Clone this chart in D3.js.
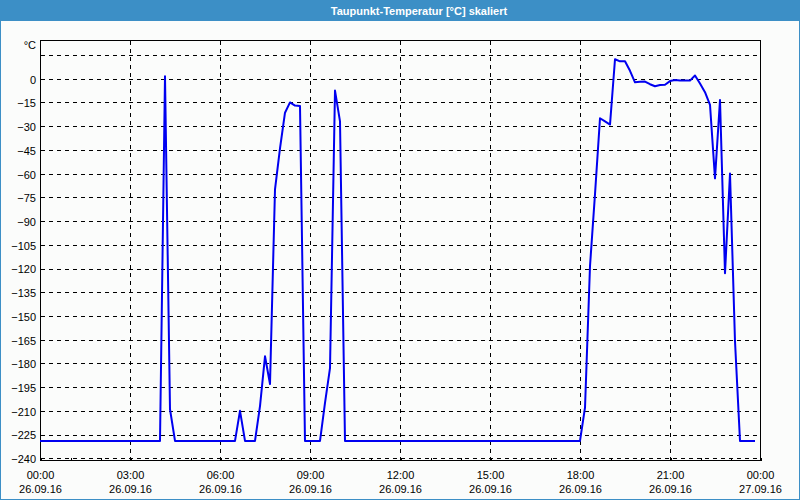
<!DOCTYPE html>
<html><head><meta charset="utf-8">
<script src="https://cdn.jsdelivr.net/npm/d3@7"></script>
<style>html,body{margin:0;padding:0;background:#fff;} svg{display:block;}</style>
</head><body>
<svg id="chart" width="800" height="500"></svg>
<script>
const chartTitle = "Taupunkt-Temperatur [°C] skaliert";
const unitLabel = "°C";
const sampleTimes = [
  "00:00","04:00","04:10","04:20","04:30",
  "06:30","06:40","06:50","07:10","07:20","07:30","07:40","07:50","08:00","08:10","08:20","08:30","08:40","08:50",
  "09:20","09:30","09:40","09:50","10:00","10:10",
  "18:00","18:10","18:20","18:30","18:40","18:50","19:00","19:10","19:20","19:30","19:40","19:50",
  "20:00","20:10","20:20","20:30","20:40","20:50","21:00","21:10","21:20","21:30","21:40","21:50",
  "22:00","22:10","22:20","22:30","22:40","22:50","23:00","23:10","23:20","23:50"
];
const dewPoint = [
  -229,-229,1.5,-209,-229,
  -229,-210,-229,-229,-207,-175.5,-193,-70,-44,-21.5,-15,-17,-17.3,-229,
  -229,-205,-183,-7.5,-27,-229,
  -229,-208,-118.5,-73,-25,-27,-29,12.3,11,11,5,-2.3,
  -2,-1.8,-3.5,-4.8,-4,-3.8,-1.5,-0.8,-1.2,-1.2,-1.2,2,
  -3,-8.5,-16.5,-63,-13.5,-123,-60,-166,-229,-229
];
const yTickValues = [-240,-225,-210,-195,-180,-165,-150,-135,-120,-105,-90,-75,-60,-45,-30,-15,0];
const yGridExtra = [15];
const xLabelHours = [0,3,6,9,12,15,18,21,24];

const W = 800, H = 500;
const frameColor = "#3c8fc6";
const svg = d3.select("#chart");
svg.append("rect").attr("width", W).attr("height", H).attr("fill", "#fbfcfb");
svg.append("rect").attr("x", 0.5).attr("y", 0.5).attr("width", W - 1).attr("height", H - 1)
  .attr("fill", "none").attr("stroke", frameColor);
svg.append("rect").attr("x", 0).attr("y", 0).attr("width", W).attr("height", 21).attr("fill", frameColor);
svg.append("text").attr("x", 419).attr("y", 15).attr("text-anchor", "middle")
  .attr("fill", "#fff").style("font", "bold 11px 'Liberation Sans', Arial, sans-serif")
  .text(chartTitle);

const day0 = new Date(2016, 8, 26, 0, 0);
const day1 = d3.timeDay.offset(day0, 1);
const parseT = s => { const [h, m] = s.split(":").map(Number); return new Date(2016, 8, 26, h, m); };
const data = sampleTimes.map((s, i) => ({ t: parseT(s), v: dewPoint[i] }));

const L = 40, R = 760, T = 40, B = 460;
const x = d3.scaleTime().domain([day0, day1]).range([L, R]);
const y = d3.scaleLinear().domain([-240, 0]).range([458.3, 78.7]);
const font = "11px 'Liberation Sans', Arial, sans-serif";

// grid
const grid = svg.append("g").attr("stroke", "#000").attr("stroke-dasharray", "4,4")
  .attr("shape-rendering", "crispEdges");
yTickValues.concat(yGridExtra).forEach(v => {
  const yy = Math.round(y(v)) + 0.5;
  grid.append("line").attr("x1", L + 1).attr("x2", R).attr("y1", yy).attr("y2", yy);
});
xLabelHours.slice(1, -1).forEach(h => {
  const xx = Math.round(x(d3.timeHour.offset(day0, h))) + 0.5;
  grid.append("line").attr("x1", xx).attr("x2", xx).attr("y1", T + 1).attr("y2", B);
});

// frame box
svg.append("rect").attr("x", L + 0.5).attr("y", T + 0.5).attr("width", R - L).attr("height", B - T)
  .attr("fill", "none").attr("stroke", "#000").attr("shape-rendering", "crispEdges");

// x axis minor ticks
const xMinor = svg.append("g").attr("transform", `translate(0.5,${B + 0.5})`)
  .call(d3.axisBottom(x).ticks(d3.timeHour.every(1)).tickSize(-3).tickFormat(""));
xMinor.select(".domain").remove();
xMinor.selectAll("line").attr("stroke", "#000").attr("shape-rendering", "crispEdges");

// x labels
const xLab = svg.append("g").attr("transform", `translate(0,${B})`)
  .call(d3.axisBottom(x).tickValues(xLabelHours.map(h => d3.timeHour.offset(day0, h))).tickSize(0));
xLab.select(".domain").remove();
xLab.selectAll("line").remove();
const fT = d3.timeFormat("%H:%M"), fD = d3.timeFormat("%d.%m.%y");
xLab.selectAll(".tick text").each(function(d) {
  const t = d3.select(this);
  t.text(null).attr("y", 0).attr("dy", null).attr("fill", "#000").style("font", font);
  t.append("tspan").attr("x", 0).attr("y", 19).text(fT(d));
  t.append("tspan").attr("x", 0).attr("y", 33).text(fD(d));
});

// y axis labels
const yAx = svg.append("g").attr("transform", `translate(${L},0)`)
  .call(d3.axisLeft(y).tickValues(yTickValues).tickSize(0).tickPadding(4).tickFormat(d3.format("d")));
yAx.select(".domain").remove();
yAx.selectAll("text").attr("fill", "#000").attr("dy", "0.4em").style("font", font);
svg.append("text").attr("x", 36).attr("y", 49).attr("text-anchor", "end")
  .style("font", font).attr("fill", "#000").text(unitLabel);

// series line
const line = d3.line().x(d => x(d.t)).y(d => y(d.v));
svg.append("path").datum(data).attr("d", line).attr("fill", "none")
  .attr("stroke", "#0000f0").attr("stroke-width", 2).attr("stroke-linejoin", "round");
</script>
</body></html>
